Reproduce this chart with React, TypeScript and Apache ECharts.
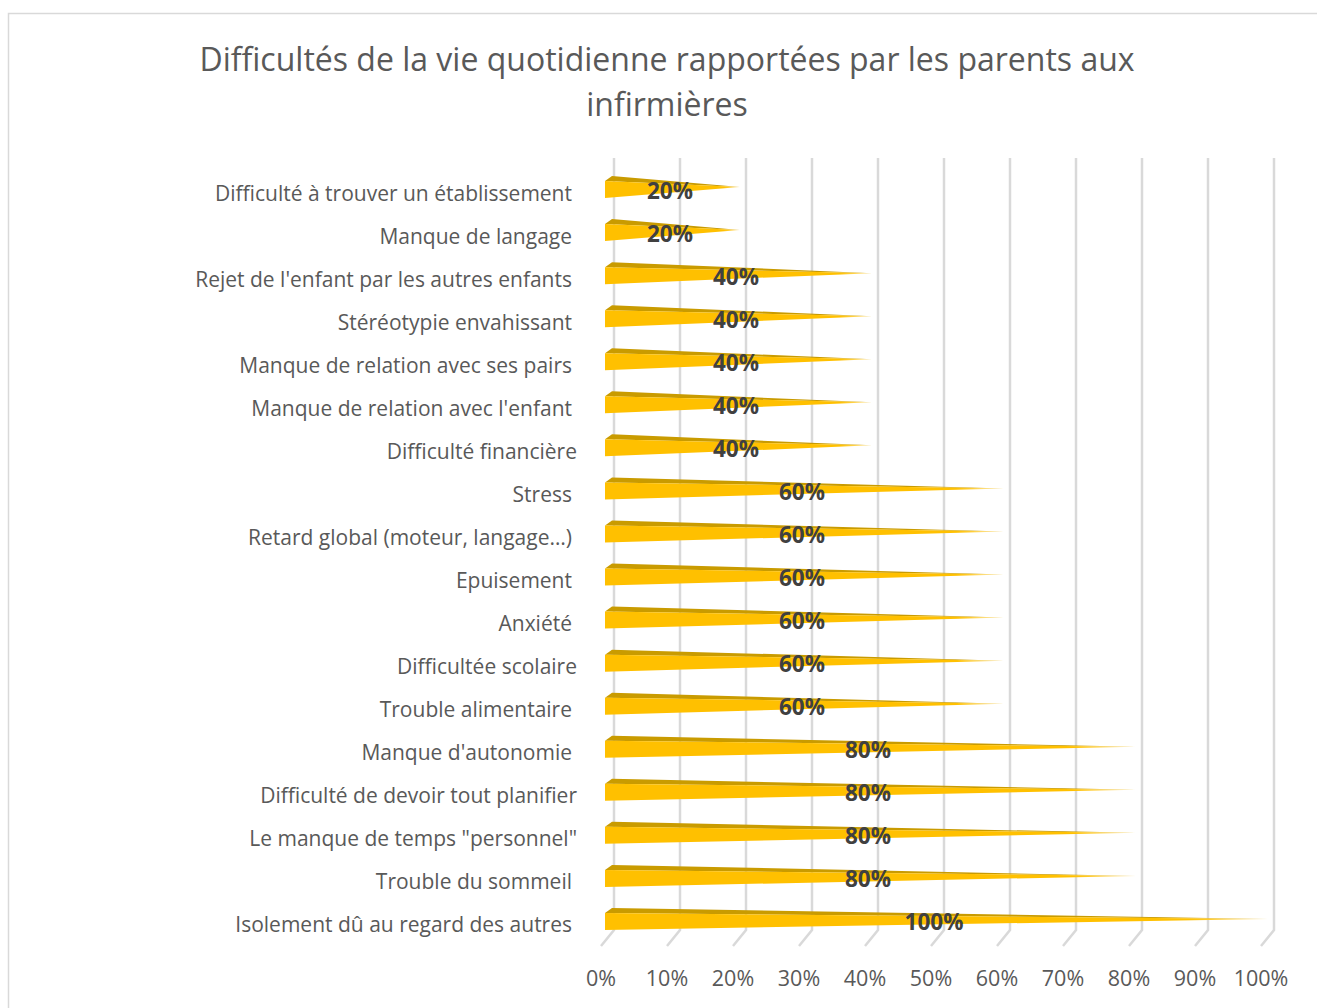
import React, { useEffect, useRef } from "react";
import * as echarts from "echarts";

const categories = [
  "Difficulté à trouver un établissement",
  "Manque de langage",
  "Rejet de l'enfant par les autres enfants",
  "Stéréotypie envahissant",
  "Manque de relation avec ses pairs",
  "Manque de relation avec l'enfant",
  "Difficulté financière",
  "Stress",
  "Retard global (moteur, langage…)",
  "Epuisement",
  "Anxiété",
  "Difficultée scolaire",
  "Trouble alimentaire",
  "Manque d'autonomie",
  "Difficulté de devoir tout planifier",
  "Le manque de temps \"personnel\"",
  "Trouble du sommeil",
  "Isolement dû au regard des autres",
];
// labels that had a trailing space in the source (end 5px further left)
const trailingSpace = [true, true, true, true, true, true, false, true, true, true, true, false, true, true, false, false, true, true];
const values = [20, 20, 40, 40, 40, 40, 40, 60, 60, 60, 60, 60, 60, 80, 80, 80, 80, 100];
const xTicks = [0, 10, 20, 30, 40, 50, 60, 70, 80, 90, 100];
const titleText = "Difficultés de la vie quotidienne rapportées par les parents aux\ninfirmières";

const FONT = "'Open Sans', 'Noto Sans', sans-serif";

export default function App() {
  const ref = useRef<HTMLDivElement>(null);
  useEffect(() => {
    if (!ref.current) return;
    const chart = echarts.init(ref.current, null, { renderer: "svg" });
    chart.setOption({
      animation: false,
      backgroundColor: "#ffffff",
      textStyle: { fontFamily: FONT },
      graphic: [
        {
          type: "rect",
          shape: { x: 8.5, y: 13.5, width: 1330, height: 1010 },
          style: { fill: "none", stroke: "#D9D9D9", lineWidth: 1.5 },
          silent: true,
          z: -10,
        },
        {
          type: "text",
          x: 667,
          y: 80.5,
          silent: true,
          style: {
            text: titleText,
            align: "center",
            verticalAlign: "middle",
            fontSize: 32,
            lineHeight: 45,
            fontFamily: FONT,
            fill: "#595959",
          },
        },
      ],
      grid: [
        { left: 601, right: 56, top: 168, bottom: 65, containLabel: false },
        { left: 601, right: 56, top: 171, bottom: 62, containLabel: false },
      ],
      xAxis: [
        {
          type: "value",
          gridIndex: 0,
          min: 0,
          max: 100,
          interval: 10,
          axisLine: { show: false },
          axisTick: { show: false },
          splitLine: { show: false },
          axisLabel: { formatter: "{value}%", color: "#595959", fontSize: 21.5, margin: 23, fontFamily: FONT },
        },
        {
          type: "value",
          gridIndex: 1,
          min: 0,
          max: 100,
          show: false,
        },
      ],
      yAxis: [
        {
          type: "category",
          gridIndex: 0,
          inverse: true,
          data: categories,
          axisLine: { show: false },
          axisTick: { show: false },
          splitLine: { show: false },
          axisLabel: { show: false },
        },
        {
          type: "category",
          gridIndex: 1,
          inverse: true,
          data: categories.map((c, i) => ({
            value: c,
            textStyle: { padding: [0, trailingSpace[i] ? 5 : 0, 0, 0] },
          })),
          axisLine: { show: false },
          axisTick: { show: false },
          splitLine: { show: false },
          axisLabel: { color: "#595959", fontSize: 21, margin: 24, fontFamily: FONT },
        },
      ],
      series: [
        {
          type: "custom",
          name: "grid",
          silent: true,
          clip: false,
          z: 1,
          xAxisIndex: 0,
          yAxisIndex: 0,
          data: xTicks.map((t) => [t, 0]),
          renderItem: (params: any, api: any) => {
            const x = api.coord([api.value(0), 0])[0];
            const cs = params.coordSys;
            const top = cs.y;
            const bottom = cs.y + cs.height;
            return {
              type: "polyline",
              shape: {
                points: [
                  [x + 13, top - 10],
                  [x + 13, bottom - 13],
                  [x, bottom + 3],
                ],
              },
              style: { stroke: "#D9D9D9", lineWidth: 2.5, fill: null },
            };
          },
        },
        {
          type: "custom",
          name: "Difficultés",
          clip: false,
          z: 2,
          xAxisIndex: 0,
          yAxisIndex: 0,
          data: values.map((v, i) => [v, i]),
          renderItem: (params: any, api: any) => {
            const v = api.value(0);
            const i = api.value(1);
            const p0 = api.coord([0, i]);
            const pv = api.coord([v, i]);
            const pm = api.coord([v / 2, i]);
            const yc = p0[1];
            const bx = p0[0] + 4;
            const h = 17;
            const top = yc - h / 2;
            const bottom = yc + h / 2;
            const tip = [pv[0] + 7, yc - 2.5];
            return {
              type: "group",
              children: [
                {
                  type: "polygon",
                  shape: { points: [[bx, top], [bx + 7, top - 5], tip] },
                  style: { fill: "#C99B00" },
                },
                {
                  type: "polygon",
                  shape: { points: [[bx, top], [bx, bottom], tip] },
                  style: {
                    fill: {
                      type: "linear",
                      x: 0,
                      y: 0,
                      x2: 1,
                      y2: 0,
                      colorStops: [
                        { offset: 0, color: "#FFC000" },
                        { offset: 0.88, color: "#FFC000" },
                        { offset: 1, color: "#FFE9A8" },
                      ],
                    },
                  },
                },
                {
                  type: "text",
                  x: pm[0] + 3,
                  y: yc + 0.5,
                  z2: 10,
                  style: {
                    text: v + "%",
                    align: "center",
                    verticalAlign: "middle",
                    fontSize: 22.5,
                    fontWeight: "bold",
                    fontFamily: FONT,
                    fill: "#404040",
                  },
                },
              ],
            };
          },
        },
      ],
    });
    return () => chart.dispose();
  }, []);
  return <div ref={ref} style={{ position: "absolute", left: 0, top: 0, width: 1317, height: 1008 }} />;
}
